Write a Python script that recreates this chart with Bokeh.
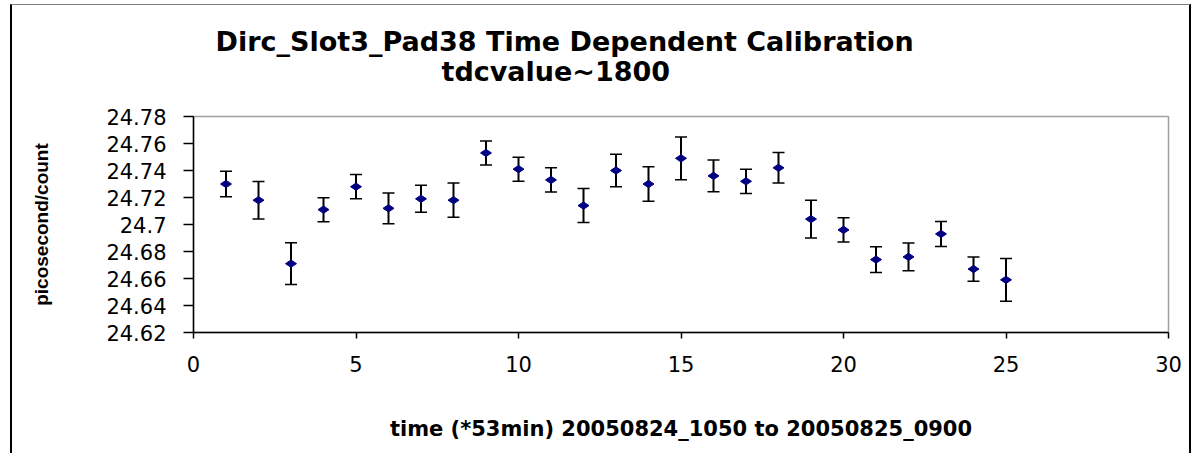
from bokeh.plotting import figure
from bokeh.models import Range1d, FixedTicker, CustomJSTickFormatter, Title, ColumnDataSource
from bokeh.embed import file_html
from bokeh.resources import INLINE
import math

# ---- data ----
time_index = list(range(1, 26))
ps_per_count = [24.730, 24.718, 24.671, 24.711, 24.728, 24.712, 24.719, 24.718,
                24.753, 24.741, 24.733, 24.714, 24.740, 24.730, 24.749, 24.736,
                24.732, 24.742, 24.704, 24.696, 24.674, 24.676, 24.693, 24.667,
                24.659]
error = [0.0095, 0.0139, 0.0155, 0.0089, 0.0090, 0.0114, 0.0100, 0.0127,
         0.0089, 0.0089, 0.0090, 0.0126, 0.0120, 0.0127, 0.0158, 0.0117,
         0.0090, 0.0113, 0.0140, 0.0090, 0.0096, 0.0103, 0.0093, 0.0090,
         0.0159]
x_ticks = [0, 5, 10, 15, 20, 25, 30]
y_ticks = [24.62, 24.64, 24.66, 24.68, 24.70, 24.72, 24.74, 24.76, 24.78]

title_line1 = "Dirc_Slot3_Pad38 Time Dependent Calibration"
title_line2 = "tdcvalue~1800"
x_title = "time (*53min) 20050824_1050 to 20050825_0900"
y_title = "picosecond/count"

upper = [v + e for v, e in zip(ps_per_count, error)]
lower = [v - e for v, e in zip(ps_per_count, error)]
src = ColumnDataSource(dict(x=time_index, y=ps_per_count, upper=upper, lower=lower))

W, H = 1181, 449
p = figure(width=W, height=H, output_backend="svg", toolbar_location=None,
           x_range=Range1d(0, 30), y_range=Range1d(24.62, 24.78),
           min_border_left=181, min_border_right=25, min_border_top=111,
           min_border_bottom=122)
p.styles = {"margin-left": "10px", "margin-top": "4px",
            "border-left": "2px solid black", "border-right": "2px solid black",
            "border-top": "1px solid #808080"}
p.background_fill_color = "white"
p.border_fill_color = "white"
p.outline_line_color = "#a0a0a0"
p.outline_line_width = 1.5
p.xgrid.visible = False
p.ygrid.visible = False

FONT = "DejaVu Sans"

p.xaxis.ticker = FixedTicker(ticks=x_ticks)
p.yaxis.ticker = FixedTicker(ticks=y_ticks)
p.yaxis.formatter = CustomJSTickFormatter(code="return tick.toFixed(2).replace(/0$/, '')")
for ax in (p.xaxis[0], p.yaxis[0]):
    ax.axis_line_color = "black"
    ax.axis_line_width = 1.5
    ax.major_tick_line_color = "black"
    ax.major_tick_line_width = 1.5
    ax.minor_tick_line_color = None
    ax.major_tick_in = 0
    ax.major_label_text_font = FONT
    ax.major_label_text_font_size = "21px"
    ax.major_label_text_color = "black"
p.yaxis.major_tick_out = 10
p.yaxis.major_label_standoff = 17
p.xaxis.major_tick_out = 6
p.xaxis.major_label_standoff = 17

p.xaxis.axis_label = x_title
p.xaxis.axis_label_text_font = FONT
p.xaxis.axis_label_text_font_style = "bold"
p.xaxis.axis_label_text_font_size = "21px"
p.xaxis.axis_label_text_color = "black"
p.xaxis.axis_label_standoff = 42

p.yaxis.axis_label = y_title
p.yaxis.axis_label_text_font = "Liberation Sans"
p.yaxis.axis_label_text_font_style = "bold"
p.yaxis.axis_label_text_font_size = "19px"
p.yaxis.axis_label_text_color = "black"
p.yaxis.axis_label_standoff = 51

# error bars
p.segment(x0="x", y0="lower", x1="x", y1="upper", source=src,
          line_color="black", line_width=2)
p.scatter(x="x", y="upper", source=src, marker="dash", size=12,
          line_color="black", line_width=1.5)
p.scatter(x="x", y="lower", source=src, marker="dash", size=12,
          line_color="black", line_width=1.5)
# points
p.scatter(x="x", y="y", source=src, marker="diamond", size=11, angle=math.pi / 2,
          fill_color="#000080", line_color="#000080")

# titles (inner line added first)
p.add_layout(Title(text=title_line2, align="left", standoff=60, offset=248,
                   text_font=FONT, text_font_style="bold", text_font_size="27px",
                   text_color="black"), "above")
p.add_layout(Title(text=title_line1, align="left", standoff=-66, offset=22,
                   text_font=FONT, text_font_style="bold", text_font_size="27px",
                   text_color="black"), "above")

open("out.html", "w").write(file_html(p, INLINE))
